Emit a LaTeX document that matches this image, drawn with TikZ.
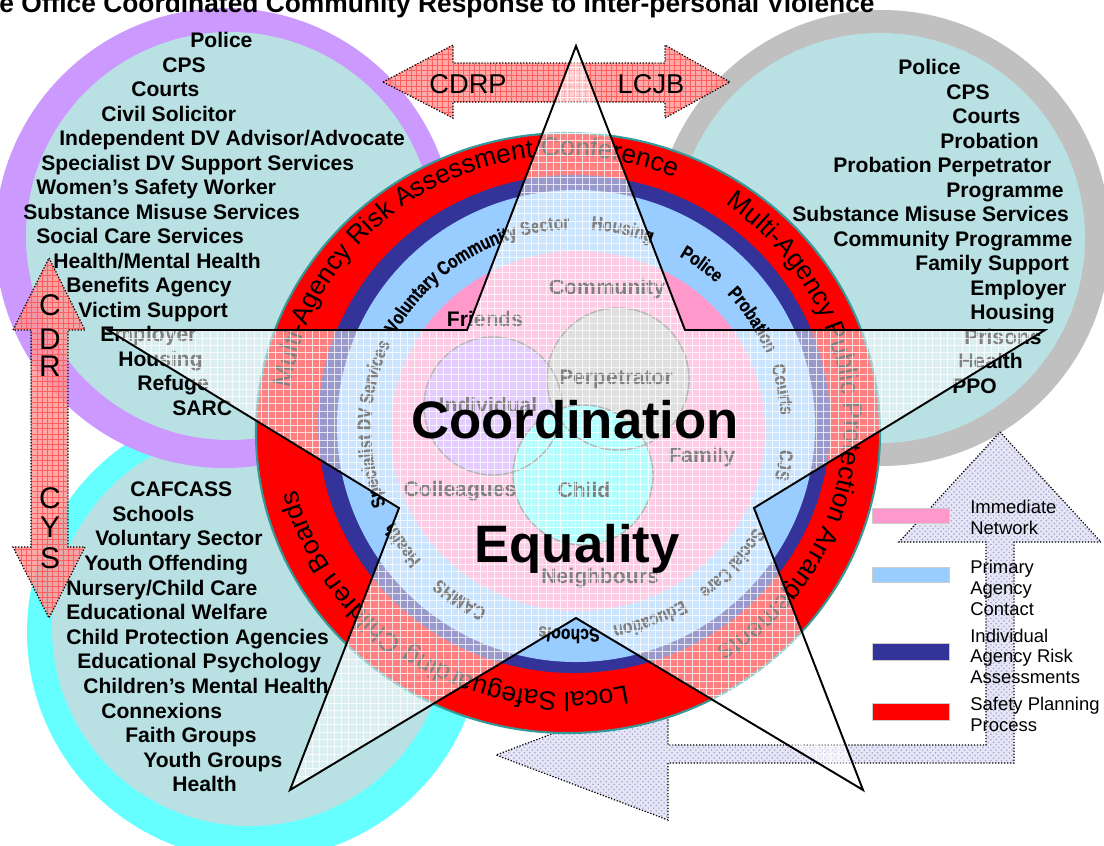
\documentclass[tikz,border=0pt]{standalone}
\usepackage{fontspec}
\setmainfont{Liberation Sans}
\newfontfamily\dgcondfam[FakeStretch=0.8,FakeBold=0.6]{Liberation Sans Bold}
\usetikzlibrary{decorations.text,patterns}

\definecolor{tealfill}{RGB}{185,224,226}
\definecolor{lilac}{RGB}{204,153,255}
\definecolor{greyring}{RGB}{192,192,192}
\definecolor{cyanring}{RGB}{102,255,255}
\definecolor{ringred}{RGB}{255,0,0}
\definecolor{ringnavy}{RGB}{51,51,153}
\definecolor{ringblue}{RGB}{153,204,255}
\definecolor{ringpink}{RGB}{255,153,204}
\definecolor{rimteal}{RGB}{51,153,153}
\definecolor{arrowpink}{RGB}{255,150,150}
\definecolor{arrowgrid}{RGB}{255,95,95}
\definecolor{lavfill}{RGB}{230,230,245}
\definecolor{lavdot}{RGB}{165,165,215}
\definecolor{vennline}{RGB}{105,105,105}

\newcommand\dgcirc{\fontsize{12}{14}\selectfont\bfseries}
\newcommand\dghead{\fontsize{15}{18}\selectfont\bfseries}
\newcommand\dgbigring{\fontsize{15}{18}\selectfont}
\newcommand\dgband{\dgcondfam\fontsize{11}{13}\selectfont}
\newcommand\dgvenn{\fontsize{12}{14}\selectfont\bfseries}
\newcommand\dgkey{\fontsize{30}{36}\selectfont\bfseries}
\newcommand\dgarrow{\fontsize{15.5}{18}\selectfont}
\newcommand\dgside{\fontsize{17}{20}\selectfont}
\newcommand\dgleg{\fontsize{10.5}{12}\selectfont}

% label set along the light blue band (angle of its middle, text)
\newcommand\dgbandlabel[2]{%
  \path[decorate,decoration={text along path,text align=center,text={|\dgband|#2}}]
    (bc) ++({#1-45}:205 and 200) arc[start angle={#1-45},end angle={#1+45},x radius=205,y radius=200];}
% label set along the red band
\newcommand\dgringlabel[2]{%
  \path[decorate,decoration={text along path,text align=center,text={|\dgbigring|#2}}]
    (tc) ++({#1-75}:278 and 268) arc[start angle={#1-75},end angle={#1+75},x radius=278,y radius=268];}

\tikzset{
  lbl/.style={inner sep=0pt,anchor=base west,font=\dgcirc},
  vlbl/.style={inner sep=0pt,anchor=base,font=\dgvenn},
  legtxt/.style={inner sep=0pt,anchor=base west,font=\dgleg},
  legbox/.style={inner sep=0pt,minimum width=43.6pt,draw=white!80!black,line width=0.3pt},
  pinkarrow/.style={densely dotted,line width=0.7pt,
    preaction={fill=arrowpink,fill opacity=0.82},
    preaction={pattern=grid,pattern color=arrowgrid}},
  lavarrow/.style={densely dotted,line width=0.7pt,
    preaction={fill=lavfill},
    preaction={pattern=crosshatch dots,pattern color=lavdot}},
  vennring/.style={draw=vennline,line width=0.8pt},
  gridline/.style={white,line width=0.5pt,opacity=0.75},
}

\begin{document}
\begin{tikzpicture}[x=0.02cm,y=-0.02cm]
\useasboundingbox (0,0) rectangle (1104,845);
\clip (0,0) rectangle (1104,845);
\fill[white] (0,0) rectangle (1104,845);

% ---- agency circles
\fill[cyanring] (255,632) circle[radius=228];
\fill[tealfill] (250,628) circle[radius=198];
\fill[lilac] (225,238) circle[radius=230];
\fill[tealfill] (230,236) circle[radius=204];
\fill[greyring] (882,238) circle[radius=228];
\fill[tealfill] (880,238) circle[radius=205];

% ---- feedback arrow
\draw[lavarrow] (1000,432) -- (1101,542) -- (1014,542) -- (1014,763) -- (668,763)
  -- (668,820) -- (496,755) -- (668,690) -- (668,745) -- (986,745) -- (986,542)
  -- (899,542) -- cycle;

% ---- CDR / CYS arrow
\draw[pinkarrow] (49,258) -- (85,330) -- (68,330) -- (68,547) -- (85,547) -- (49,618)
  -- (13,547) -- (31,547) -- (31,330) -- (13,330) -- cycle;
\node[inner sep=0pt,anchor=base,font=\dgside] (c1) at (50,315) {C};
\node[inner sep=0pt,anchor=base,font=\dgside] (d1) at (50,349) {D};
\node[inner sep=0pt,anchor=base,font=\dgside] (r1) at (50,376) {R};
\node[inner sep=0pt,anchor=base,font=\dgside] (c2) at (50,508) {C};
\node[inner sep=0pt,anchor=base,font=\dgside] (y2) at (50,537) {Y};
\node[inner sep=0pt,anchor=base,font=\dgside] (s2) at (50,568) {S};

% ---- CDRP / LCJB arrow
\draw[pinkarrow] (383,82) -- (453,45) -- (453,63) -- (665,63) -- (665,45) -- (730,82)
  -- (665,118) -- (665,102) -- (453,102) -- (453,118) -- cycle;
\node[inner sep=0pt,anchor=base,font=\dgarrow] (cdrp) at (468,93) {CDRP};
\node[inner sep=0pt,anchor=base,font=\dgarrow] (lcjb) at (651,93) {LCJB};

% ---- central rings
\coordinate (rc) at (568,433);
\coordinate (bc) at (576,429);
\coordinate (tc) at (566,424);
\fill[ringred] (rc) ellipse[x radius=312,y radius=300];
\draw[rimteal,line width=1.2pt] (rc) ellipse[x radius=312,y radius=300];
\fill[ringnavy] (574,424) ellipse[x radius=256,y radius=249];
\fill[ringblue] (576,426) ellipse[x radius=239,y radius=236];
\fill[ringpink] (578,431) ellipse[x radius=187,y radius=180];

% ---- immediate network
\fill[lilac] (493,406) circle[radius=69];
\fill[greyring] (618,379) circle[radius=71];
\fill[cyanring] (583,475) circle[radius=70];
\draw[vennring] (493,406) circle[radius=69];
\draw[vennring] (618,379) circle[radius=71];
\draw[vennring] (583,475) circle[radius=70];

\node[vlbl] (community) at (607,294) {Community};
\node[vlbl] (friends) at (485,326) {Friends};
\node[vlbl] (individual) at (488,412.5) {Individual};
\node[vlbl] (perp) at (616,384) {Perpetrator};
\node[vlbl] (family) at (702,462) {Family};
\node[vlbl] (colleagues) at (460,496) {Colleagues};
\node[vlbl] (child) at (584,497) {Child};
\node[vlbl] (neighbours) at (600,583) {Neighbours};

% ---- primary agencies
\dgbandlabel{-122}{Voluntary Community Sector}
\dgbandlabel{-77}{Housing}
\dgbandlabel{-53}{Police}
\dgbandlabel{-32}{Probation}
\dgbandlabel{-11}{Courts}
\dgbandlabel{10}{CJS}
\dgbandlabel{41}{Social Care}
\dgbandlabel{69}{Education}
\dgbandlabel{92}{Schools}
\dgbandlabel{124}{CAMHS}
\dgbandlabel{146}{Health}
\dgbandlabel{181.5}{Specialist DV Services}

% ---- safety planning forums
\dgringlabel{-120}{Multi-Agency Risk Assessment Conference}
\dgringlabel{1}{Multi-Agency Public Protection Arrangements}
\dgringlabel{122}{Local Safeguarding Children Boards}

% ---- CDRP agencies
\node[lbl] (tl1) at (190,47.6) {Police};
\node[lbl] (tl2) at (162,72.1) {CPS};
\node[lbl] (tl3) at (131,96.6) {Courts};
\node[lbl] (tl4) at (101,121.1) {Civil Solicitor};
\node[lbl] (tl5) at (59,145.6) {Independent DV Advisor/Advocate};
\node[lbl] (tl6) at (41,170.1) {Specialist DV Support Services};
\node[lbl] (tl7) at (36,194.6) {Women’s Safety Worker};
\node[lbl] (tl8) at (23,219.1) {Substance Misuse Services};
\node[lbl] (tl9) at (36,243.6) {Social Care Services};
\node[lbl] (tl10) at (53,268.1) {Health/Mental Health};
\node[lbl] (tl11) at (66,292.6) {Benefits Agency};
\node[lbl] (tl12) at (78,317.1) {Victim Support};
\node[lbl] (tl13) at (100,341.6) {Employer};
\node[lbl] (tl14) at (118,366.1) {Housing};
\node[lbl] (tl15) at (137,390.6) {Refuge};
\node[lbl] (tl16) at (172,415.1) {SARC};

% ---- LCJB agencies
\node[lbl] (tr1) at (898,74.6) {Police};
\node[lbl] (tr2) at (946,99.1) {CPS};
\node[lbl] (tr3) at (952,123.6) {Courts};
\node[lbl] (tr4) at (940,148.1) {Probation};
\node[lbl] (tr5) at (833,172.6) {Probation Perpetrator};
\node[lbl] (tr6) at (946,197.1) {Programme};
\node[lbl] (tr7) at (792,221.6) {Substance Misuse Services};
\node[lbl] (tr8) at (833,246.1) {Community Programme};
\node[lbl] (tr9) at (915,270.6) {Family Support};
\node[lbl] (tr10) at (970,295.1) {Employer};
\node[lbl] (tr11) at (970,319.6) {Housing};
\node[lbl] (tr12) at (964,344.1) {Prisons};
\node[lbl] (tr13) at (958,368.6) {Health};
\node[lbl] (tr14) at (952,393.1) {PPO};

% ---- CYS agencies
\node[lbl] (bl1) at (130,496.6) {CAFCASS};
\node[lbl] (bl2) at (112,521.2) {Schools};
\node[lbl] (bl3) at (95,545.8) {Voluntary Sector};
\node[lbl] (bl4) at (84,570.4) {Youth Offending};
\node[lbl] (bl5) at (66,595) {Nursery/Child Care};
\node[lbl] (bl6) at (66,619.6) {Educational Welfare};
\node[lbl] (bl7) at (66,644.2) {Child Protection Agencies};
\node[lbl] (bl8) at (77,668.8) {Educational Psychology};
\node[lbl] (bl9) at (83,693.4) {Children’s Mental Health};
\node[lbl] (bl10) at (101,718) {Connexions};
\node[lbl] (bl11) at (125,742.6) {Faith Groups};
\node[lbl] (bl12) at (143,767.2) {Youth Groups};
\node[lbl] (bl13) at (172,791.8) {Health};

% ---- star
\coordinate (s1) at (576,46);
\coordinate (s2) at (685,330);
\coordinate (s3) at (1045,330);
\coordinate (s4) at (754,508);
\coordinate (s5) at (863,790);
\coordinate (s6) at (576,618);
\coordinate (s7) at (290,790);
\coordinate (s8) at (399,508);
\coordinate (s9) at (108,330);
\coordinate (s10) at (467,330);
\begin{scope}
  \clip (s1) -- (s2) -- (s3) -- (s4) -- (s5) -- (s6) -- (s7) -- (s8) -- (s9) -- (s10) -- cycle;
  \fill[white,opacity=0.5] (100,40) rectangle (1050,800);
  \foreach \i in {0,...,130} \draw[gridline] ({108+7.3*\i},40) -- ({108+7.3*\i},800);
  \foreach \j in {0,...,103} \draw[gridline] (100,{46+7.3*\j}) -- (1050,{46+7.3*\j});
\end{scope}
\draw[line width=1.1pt,line join=miter] (s1) -- (s2) -- (s3) -- (s4) -- (s5) -- (s6)
  -- (s7) -- (s8) -- (s9) -- (s10) -- cycle;

\node[inner sep=0pt,anchor=base,font=\dgkey] (coord) at (575,438) {Coordination};
\node[inner sep=0pt,anchor=base,font=\dgkey] (equal) at (577,562) {Equality};

% ---- key
\node[legbox,fill=ringpink,minimum height=8.5pt] (k1) at (911,515.5) {};
\node[legbox,fill=ringblue,minimum height=8.5pt] (k2) at (911,574.5) {};
\node[legbox,fill=ringnavy,minimum height=9.6pt] (k3) at (911,651.5) {};
\node[legbox,fill=ringred,minimum height=9.6pt] (k4) at (911,711.5) {};
\node[legtxt] (k1a) at (970,513) {Immediate};
\node[legtxt] (k1b) at (970,534) {Network};
\node[legtxt] (k2a) at (970,573) {Primary};
\node[legtxt] (k2b) at (970,594) {Agency};
\node[legtxt] (k2c) at (970,615) {Contact};
\node[legtxt] (k3a) at (970,642) {Individual};
\node[legtxt] (k3b) at (970,662) {Agency Risk};
\node[legtxt] (k3c) at (970,683) {Assessments};
\node[legtxt] (k4a) at (970,710) {Safety Planning};
\node[legtxt] (k4b) at (970,731) {Process};

% ---- heading
\node[inner sep=0pt,anchor=base west,font=\dghead] (heading) at (-1,12)
  {e Office Coordinated Community Response to Inter-personal Violence};
\end{tikzpicture}
\end{document}
